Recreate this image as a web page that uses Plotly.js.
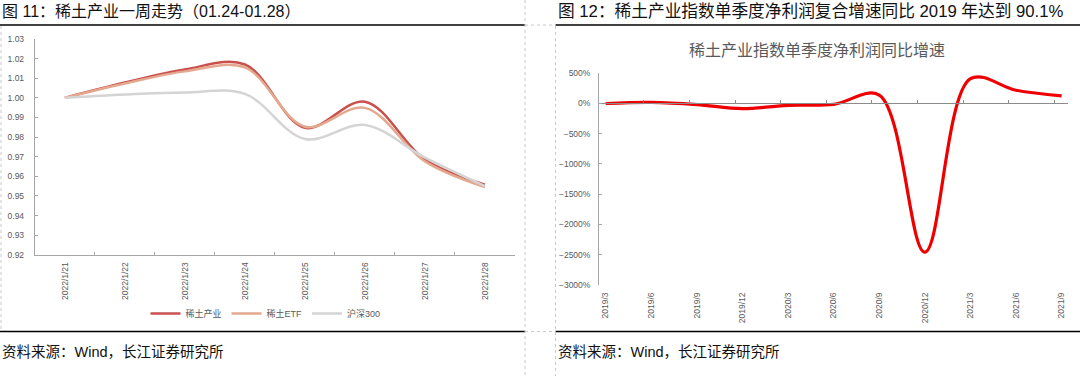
<!DOCTYPE html>
<html>
<head>
<meta charset="utf-8">
<script src="https://cdn.plot.ly/plotly-3.0.1.min.js"></script>
<style>
html,body{margin:0;padding:0;background:#fff;}
#chart{width:1080px;height:376px;}
</style>
</head>
<body>
<div id="chart"></div>
<script>
// ---- Left chart data (Fig. 11) ----
const weekDates = ["2022/1/21","2022/1/22","2022/1/23","2022/1/24","2022/1/25","2022/1/26","2022/1/27","2022/1/28"];
const rareEarthIndustry = [1.000, 1.0078, 1.0145, 1.0170, 0.9847, 0.9980, 0.9685, 0.9557];
const rareEarthETF      = [1.000, 1.0073, 1.0135, 1.0155, 0.9853, 0.9949, 0.9676, 0.9545];
const hs300             = [1.000, 1.0017, 1.0027, 1.0020, 0.9790, 0.9862, 0.9695, 0.9550];
const seriesNames = ["稀土产业", "稀土ETF", "沪深300"];

// ---- Right chart data (Fig. 12) ----
const quarters = ["2019/3","2019/6","2019/9","2019/12","2020/3","2020/6","2020/9","2020/12","2021/3","2021/6","2021/9"];
const profitGrowth = [0, 20, -17, -85, -30, -15, 140, -2460, 410, 220, 125];

// ---- Texts ----
const heading11 = "图 11：稀土产业一周走势（01.24-01.28）";
const heading12 = "图 12：稀土产业指数单季度净利润复合增速同比 2019 年达到 90.1%";
const chart12Title = "稀土产业指数单季度净利润同比增速";
const sourceText = "资料来源：Wind，长江证券研究所";

const W = 1080, H = 376;
const px = x => x / W;
const py = y => 1 - y / H;
const FONT = "Liberation Sans, Arial, Noto Sans CJK SC, sans-serif";
const GREY_TXT = "#595959";
const AXIS = "#A6A6A6";

const traces = [
  {x: weekDates, y: rareEarthIndustry, name: seriesNames[0], type: "scatter", mode: "lines",
   line: {color: "#C9504D", width: 2.5, shape: "spline", smoothing: 1}, xaxis: "x", yaxis: "y"},
  {x: weekDates, y: rareEarthETF, name: seriesNames[1], type: "scatter", mode: "lines",
   line: {color: "#E4A88F", width: 2.5, shape: "spline", smoothing: 1}, xaxis: "x", yaxis: "y"},
  {x: weekDates, y: hs300, name: seriesNames[2], type: "scatter", mode: "lines",
   line: {color: "#D4D4D4", width: 2.5, shape: "spline", smoothing: 1}, xaxis: "x", yaxis: "y"},
  {x: quarters, y: profitGrowth, name: chart12Title, type: "scatter", mode: "lines",
   line: {color: "#EE0000", width: 3.2, shape: "spline", smoothing: 1}, xaxis: "x2", yaxis: "y2",
   showlegend: false}
];

// tick marks of the right chart's zero axis sit slightly left of each category
const zeroAxisTicks = quarters.slice(1).map((q, i) => i + 1 - 0.16);

const dashed = {color: "#C8C8C8", width: 1, dash: "dot"};
const solid = {color: "#000", width: 1.6};
const shapes = [
  {type: "line", xref: "paper", yref: "paper", x0: px(0), x1: px(525), y0: py(25), y1: py(25), line: solid},
  {type: "line", xref: "paper", yref: "paper", x0: px(555.5), x1: px(1080), y0: py(25), y1: py(25), line: solid},
  {type: "line", xref: "paper", yref: "paper", x0: px(0), x1: px(525), y0: py(331.5), y1: py(331.5), line: solid},
  {type: "line", xref: "paper", yref: "paper", x0: px(555.5), x1: px(1080), y0: py(331.5), y1: py(331.5), line: solid},
  {type: "line", xref: "paper", yref: "paper", x0: px(525), x1: px(525), y0: py(0), y1: py(376), line: dashed},
  {type: "line", xref: "paper", yref: "paper", x0: px(555.5), x1: px(555.5), y0: py(26), y1: py(376), line: dashed},
  {type: "line", xref: "paper", yref: "paper", x0: px(525), x1: px(555.5), y0: py(25), y1: py(25), line: dashed},
  {type: "line", xref: "paper", yref: "paper", x0: px(525), x1: px(555.5), y0: py(331.5), y1: py(331.5), line: dashed},
  {type: "line", xref: "paper", yref: "paper", x0: px(1), x1: px(1), y0: py(26), y1: py(331), line: dashed}
];

const annotations = [
  {xref: "paper", yref: "paper", x: px(0), y: py(11), xanchor: "left", yanchor: "middle", showarrow: false,
   text: heading11, font: {family: FONT, size: 16, color: "#111"}},
  {xref: "paper", yref: "paper", x: px(556), y: py(11), xanchor: "left", yanchor: "middle", showarrow: false,
   text: heading12, font: {family: FONT, size: 16.7, color: "#111"}},
  {xref: "paper", yref: "paper", x: px(817), y: py(51), xanchor: "center", yanchor: "middle", showarrow: false,
   text: chart12Title, font: {family: FONT, size: 16, color: GREY_TXT}},
  {xref: "paper", yref: "paper", x: px(0), y: py(352), xanchor: "left", yanchor: "middle", showarrow: false,
   text: sourceText, font: {family: FONT, size: 14.5, color: "#111"}},
  {xref: "paper", yref: "paper", x: px(555.5), y: py(352), xanchor: "left", yanchor: "middle", showarrow: false,
   text: sourceText, font: {family: FONT, size: 14.5, color: "#111"}}
];

const tickFont = {family: FONT, size: 8.5, color: GREY_TXT};

const layout = {
  width: W, height: H,
  margin: {l: 0, r: 0, t: 0, b: 0, pad: 0},
  paper_bgcolor: "#fff", plot_bgcolor: "rgba(0,0,0,0)",
  font: {family: FONT},
  showlegend: true,
  legend: {orientation: "h", x: px(265.5), y: py(313.5), xanchor: "center", yanchor: "middle",
           font: {family: FONT, size: 9, color: GREY_TXT}, itemwidth: 30,
           bgcolor: "rgba(0,0,0,0)"},
  xaxis: {domain: [px(34.8), px(515)], anchor: "y", type: "category", range: [-0.5, 7.5],
          tickson: "boundaries", ticks: "inside", ticklen: 3, tickcolor: AXIS,
          showline: true, linecolor: AXIS, linewidth: 1, showgrid: false, zeroline: false,
          tickangle: -90, tickfont: tickFont, ticklabelstandoff: 3, fixedrange: true},
  yaxis: {domain: [py(254.8), py(39)], anchor: "x", range: [0.92, 1.03], dtick: 0.01, tick0: 0.92,
          tickformat: ".2f", ticks: "inside", ticklen: 3, tickcolor: AXIS,
          showline: true, linecolor: AXIS, linewidth: 1, showgrid: false, zeroline: false,
          tickfont: tickFont, ticklabelstandoff: 8, fixedrange: true},
  xaxis2: {domain: [px(599.3), px(1068)], anchor: "y2", type: "category", range: [-0.14, 10.14],
           ticks: "", showline: false, showgrid: false, zeroline: false,
           tickangle: -90, tickfont: tickFont, ticklabelstandoff: 5, fixedrange: true},
  xaxis3: {overlaying: "x2", anchor: "free", position: py(102.8), type: "linear", range: [-0.14, 10.14],
           tickmode: "array", tickvals: zeroAxisTicks, showticklabels: false,
           ticks: "inside", ticklen: 3, tickcolor: "#8C8C8C",
           showline: true, linecolor: "#8C8C8C", linewidth: 1.2, showgrid: false, zeroline: false, fixedrange: true},
  yaxis2: {domain: [py(284.8), py(73.3)], anchor: "x2", range: [-3000, 500], dtick: 500, tick0: 0,
           ticksuffix: "%", ticks: "inside", ticklen: 3, tickcolor: AXIS,
           showline: true, linecolor: AXIS, linewidth: 1.2, showgrid: false, zeroline: false,
           tickfont: tickFont, ticklabelstandoff: 6, fixedrange: true},
  shapes: shapes,
  annotations: annotations
};

// invisible helper so the zero-line axis (xaxis3) is drawn
traces.push({x: [0], y: [0], xaxis: "x3", yaxis: "y2", type: "scatter", mode: "markers",
             marker: {opacity: 0}, showlegend: false, hoverinfo: "skip"});

Plotly.newPlot("chart", traces, layout, {displayModeBar: false, staticPlot: true});
</script>
</body>
</html>
